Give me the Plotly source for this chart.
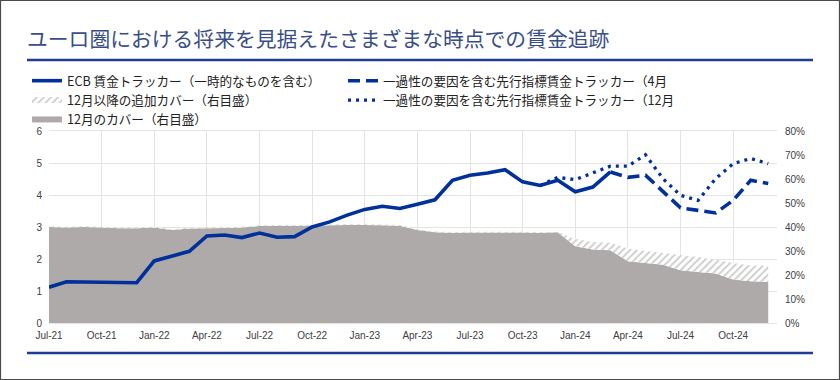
import plotly.graph_objects as go

# ---------------- data ----------------
months = [
    "Jul-21", "Aug-21", "Sep-21", "Oct-21", "Nov-21", "Dec-21",
    "Jan-22", "Feb-22", "Mar-22", "Apr-22", "May-22", "Jun-22",
    "Jul-22", "Aug-22", "Sep-22", "Oct-22", "Nov-22", "Dec-22",
    "Jan-23", "Feb-23", "Mar-23", "Apr-23", "May-23", "Jun-23",
    "Jul-23", "Aug-23", "Sep-23", "Oct-23", "Nov-23", "Dec-23",
    "Jan-24", "Feb-24", "Mar-24", "Apr-24", "May-24", "Jun-24",
    "Jul-24", "Aug-24", "Sep-24", "Oct-24", "Nov-24", "Dec-24",
]
tick_labels = ["Jul-21", "Oct-21", "Jan-22", "Apr-22", "Jul-22", "Oct-22", "Jan-23",
               "Apr-23", "Jul-23", "Oct-23", "Jan-24", "Apr-24", "Jul-24", "Oct-24"]

# ECB wage tracker (incl. one-offs), Jul-21 .. Mar-24
tracker_months = months[:33]
tracker = [1.12, 1.29, 1.28, 1.28, 1.26, 1.26,
           1.94, 2.08, 2.24, 2.72, 2.75, 2.67,
           2.81, 2.68, 2.70, 3.00, 3.16, 3.37,
           3.55, 3.65, 3.58, 3.71, 3.85, 4.46,
           4.62, 4.69, 4.79, 4.41, 4.30, 4.46,
           4.10, 4.25, 4.72]

# forward-looking tracker (April vintage), Mar-24 .. Dec-24
fwd_apr_months = months[32:]
fwd_apr = [4.72, 4.55, 4.62, 4.10, 3.60, 3.52, 3.44, 3.83, 4.46, 4.36]

# forward-looking tracker (December vintage), Nov-23 .. Dec-24
fwd_dec_months = months[28:]
fwd_dec = [4.30, 4.55, 4.48, 4.68, 4.90, 4.90, 5.26, 4.51, 3.99, 3.83, 4.51, 4.98, 5.14, 4.98]

# coverage in December (%, right axis)
cover_dec = [40.0, 39.8, 40.0, 39.8, 39.5, 39.5,
             39.8, 38.8, 39.4, 39.5, 39.6, 39.8,
             40.4, 40.5, 40.5, 40.6, 40.7, 40.8,
             40.8, 40.7, 40.5, 38.7, 37.8, 37.6,
             37.7, 37.7, 37.7, 37.7, 37.6, 37.8,
             32.0, 30.6, 30.3, 25.7, 25.0, 24.3,
             22.0, 21.3, 20.6, 18.1, 17.4, 17.1]

# additional coverage since December (%, right axis)
cover_add = [0.3, 0.3, 0.3, 0.3, 0.3, 0.3,
             0.3, 0.3, 0.3, 0.3, 0.3, 0.3,
             0.3, 0.3, 0.3, 0.3, 0.3, 0.3,
             0.3, 0.3, 0.3, 0.3, 0.3, 0.3,
             0.3, 0.3, 0.3, 0.3, 0.3, 0.1,
             3.0, 3.2, 3.1, 5.3, 5.0, 4.9,
             6.2, 6.2, 5.8, 6.9, 6.6, 6.65]

right_ticks = [0, 10, 20, 30, 40, 50, 60, 70, 80]
right_tick_text = ["0%", "10%", "20%", "30%", "40%", "50%", "60%", "70%", "80%"]
left_ticks = [0, 1, 2, 3, 4, 5, 6]

names = {
    "tracker": "ECB 賃金トラッカー（一時的なものを含む）",
    "apr": "一過性の要因を含む先行指標賃金トラッカー（4月",
    "add": "12月以降の追加カバー（右目盛）",
    "dec": "一過性の要因を含む先行指標賃金トラッカー（12月",
    "cover": "12月のカバー（右目盛）",
}
title_text = "ユーロ圏における将来を見据えたさまざまな時点での賃金追跡"

# ---------------- styling ----------------
W, H = 840, 380
ML, MR, MT, MB = 49, 63, 131, 57
PW, PH = W - ML - MR, H - MT - MB
BLUE = "#00319A"
GRAY = "#AEAAAA"
GRID = "#E4E4E4"
JP = "Noto Sans CJK JP"
LAT = "Liberation Sans, Arial, sans-serif"


def px_x(p):
    return (p - ML) / PW


def px_y(p):
    return (H - MB - p) / PH


fig = go.Figure()

fig.add_trace(go.Scatter(
    x=months, y=cover_dec, name=names["cover"], yaxis="y",
    stackgroup="cov", mode="none", fillcolor=GRAY, legend="legend", legendrank=3,
    hoverinfo="skip",
))
fig.add_trace(go.Scatter(
    x=months, y=cover_add, name=names["add"], yaxis="y",
    stackgroup="cov", mode="none", fillcolor="white",
    fillpattern=dict(shape="/", fgcolor="#9C9898", bgcolor="white", size=5, solidity=0.35),
    legend="legend", legendrank=2, hoverinfo="skip",
))
fig.add_trace(go.Scatter(
    x=tracker_months, y=tracker, name=names["tracker"], yaxis="y2",
    mode="lines", line=dict(color=BLUE, width=3.6), legend="legend", legendrank=1,
))
fig.add_trace(go.Scatter(
    x=fwd_apr_months, y=fwd_apr, name=names["apr"], yaxis="y2",
    mode="lines", line=dict(color=BLUE, width=3.6, dash="12px,6px"),
    legend="legend2", legendrank=1,
))
fig.add_trace(go.Scatter(
    x=fwd_dec_months, y=fwd_dec, name=names["dec"], yaxis="y2",
    mode="lines", line=dict(color=BLUE, width=3.3, dash="3px,5px"),
    legend="legend2", legendrank=2,
))

tickfont = dict(family=LAT, size=10, color="#404040")
legend_font = dict(family=JP, size=12.6, color="#222222")

fig.update_layout(
    width=W, height=H,
    margin=dict(l=ML, r=MR, t=MT, b=MB, pad=0),
    paper_bgcolor="white", plot_bgcolor="white",
    title=dict(text=title_text, xref="container", yref="container",
               x=27 / W, y=1 - 40 / H, xanchor="left", yanchor="middle",
               font=dict(family=JP, size=20.8, color="#3A4E86")),
    xaxis=dict(type="category", categoryorder="array", categoryarray=months,
               range=[0, 41.5], tickmode="array", tickvals=tick_labels, ticktext=tick_labels,
               showgrid=True, gridcolor=GRID, gridwidth=1,
               showline=True, linecolor=GRID, linewidth=1, mirror=True,
               ticks="", tickfont=tickfont, ticklabelstandoff=3, zeroline=False),
    yaxis=dict(side="right", range=[0, 80], tickmode="array",
               tickvals=right_ticks, ticktext=right_tick_text,
               showgrid=False, zeroline=False, ticks="", tickfont=tickfont,
               ticklabelstandoff=7),
    yaxis2=dict(overlaying="y", side="left", range=[0, 6], tickmode="array",
                tickvals=left_ticks, ticktext=[str(v) for v in left_ticks],
                showgrid=True, gridcolor=GRID, gridwidth=1, zeroline=False,
                ticks="", tickfont=tickfont, ticklabelstandoff=6),
    legend=dict(orientation="v", x=px_x(27), y=px_y(66), xanchor="left", yanchor="top",
                font=legend_font, itemwidth=30, bgcolor="rgba(0,0,0,0)",
                traceorder="normal", tracegroupgap=0),
    legend2=dict(orientation="v", x=px_x(343), y=px_y(66), xanchor="left", yanchor="top",
                 font=legend_font, itemwidth=30, bgcolor="rgba(0,0,0,0)",
                 traceorder="normal", tracegroupgap=0),
    showlegend=True,
    shapes=[
        dict(type="line", xref="paper", yref="paper", x0=px_x(27), x1=px_x(813),
             y0=px_y(60), y1=px_y(60), line=dict(color="#1F3D95", width=2.5)),
        dict(type="line", xref="paper", yref="paper", x0=px_x(27), x1=px_x(813),
             y0=px_y(353), y1=px_y(353), line=dict(color="#1F3D95", width=2.5)),
        dict(type="rect", xref="paper", yref="paper", x0=px_x(0.5), x1=px_x(839.5),
             y0=px_y(379.5), y1=px_y(0.5), line=dict(color="#4A4A4A", width=1.2),
             fillcolor="rgba(0,0,0,0)"),
    ],
)

fig.write_html(
    "out.html",
    config={"displayModeBar": False},
    post_script="document.body.style.margin='0';document.body.style.padding='0';"
                "document.body.style.overflow='hidden';",
)
